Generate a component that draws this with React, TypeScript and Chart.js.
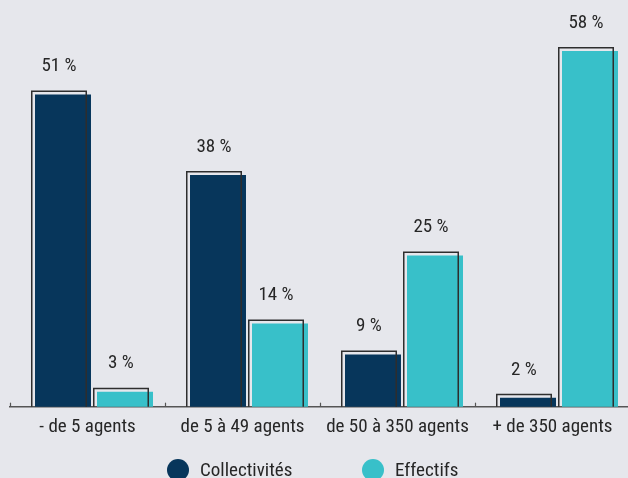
import React, { useEffect, useRef } from "react";
import { Chart, registerables } from "chart.js";

Chart.register(...registerables);

const categories = ["- de 5 agents", "de 5 à 49 agents", "de 50 à 350 agents", "+ de 350 agents"];
const collectivites = [51, 38, 9, 2];
const effectifs = [3, 14, 25, 58];
const seriesLabels = ["Collectivités", "Effectifs"];
const seriesColors = ["#07365b", "#38c0c9"];

const FONT = "'Roboto Condensed', 'DejaVu Sans Condensed', sans-serif";
const FSIZE = 19;
const TEXT = "#262626";
const BG = "#e6e7ec";
const SHIFT = 6.5;
const OUT = 4;

const decorPlugin = {
  id: "decor",
  beforeDatasetsDraw(chart: any) {
    chart.ctx.save();
    chart.ctx.translate(SHIFT, 0);
  },
  afterDatasetsDraw(chart: any) {
    const ctx = chart.ctx;
    const bottom = chart.chartArea.bottom;
    chart.data.datasets.forEach((ds: any, di: number) => {
      const meta = chart.getDatasetMeta(di);
      meta.data.forEach((bar: any, i: number) => {
        const { x, y, width } = bar.getProps(["x", "y", "width"], true);
        ctx.save();
        ctx.strokeStyle = "#2e2e2e";
        ctx.lineWidth = 1.5;
        const left = x - width / 2 - OUT;
        const top = y - OUT;
        ctx.beginPath();
        ctx.moveTo(left + 0.75, bottom);
        ctx.lineTo(left + 0.75, top + 0.75);
        ctx.lineTo(left + width - 0.75, top + 0.75);
        ctx.lineTo(left + width - 0.75, bottom);
        ctx.stroke();
        ctx.fillStyle = TEXT;
        ctx.font = `${FSIZE}px ${FONT}`;
        ctx.textAlign = "center";
        ctx.textBaseline = "middle";
        ctx.fillText(`${ds.data[i]} %`, x - OUT, y - 28);
        ctx.restore();
      });
    });
    ctx.restore();
    const xs = chart.scales.x;
    const n = categories.length;
    const w = (xs.right - xs.left) / n;
    ctx.save();
    ctx.strokeStyle = "#555";
    ctx.lineWidth = 1.2;
    for (let i = 0; i < n; i++) {
      const px = Math.round(xs.left + i * w) + 0.5;
      ctx.beginPath();
      ctx.moveTo(px, bottom);
      ctx.lineTo(px, bottom - 4);
      ctx.stroke();
    }
    ctx.restore();
  },
  afterDraw(chart: any) {
    const ctx = chart.ctx;
    const items = [
      { cx: 178, tx: 200 },
      { cx: 373, tx: 395 },
    ];
    ctx.save();
    items.forEach((it, i) => {
      ctx.fillStyle = seriesColors[i];
      ctx.beginPath();
      ctx.arc(it.cx, 470, 11, 0, Math.PI * 2);
      ctx.fill();
      ctx.fillStyle = TEXT;
      ctx.font = `${FSIZE}px ${FONT}`;
      ctx.textAlign = "left";
      ctx.textBaseline = "alphabetic";
      ctx.fillText(seriesLabels[i], it.tx, 476);
    });
    ctx.restore();
  },
};

export default function App() {
  const ref = useRef<HTMLCanvasElement>(null);
  useEffect(() => {
    document.body.style.background = BG;
    const chart = new Chart(ref.current!, {
      type: "bar",
      data: {
        labels: categories,
        datasets: [
          { label: seriesLabels[0], data: collectivites, backgroundColor: seriesColors[0], borderWidth: 0, clip: 0 },
          { label: seriesLabels[1], data: effectifs, backgroundColor: seriesColors[1], borderWidth: 0, clip: 0 },
        ],
      },
      options: {
        responsive: false,
        animation: false,
        devicePixelRatio: 1,
        layout: { padding: { left: 10, right: 10, top: 10, bottom: 30.5 } },
        datasets: { bar: { categoryPercentage: 0.8, barPercentage: 0.903 } },
        plugins: { legend: { display: false }, tooltip: { enabled: false } },
        scales: {
          x: {
            grid: { display: false, drawTicks: false },
            border: { display: true, color: "#555", width: 1.5 },
            ticks: {
              color: TEXT,
              font: { family: FONT, size: FSIZE },
              padding: 9,
              maxRotation: 0,
              minRotation: 0,
              autoSkip: false,
            },
          },
          y: {
            display: false,
            min: 0.57,
            max: 64.64,
          },
        },
      },
      plugins: [decorPlugin],
    });
    return () => chart.destroy();
  }, []);
  return (
    <div style={{ position: "absolute", left: 0, top: 0, width: 628, height: 478, overflow: "hidden", background: BG }}>
      <canvas ref={ref} width={640} height={478} style={{ display: "block" }} />
    </div>
  );
}
